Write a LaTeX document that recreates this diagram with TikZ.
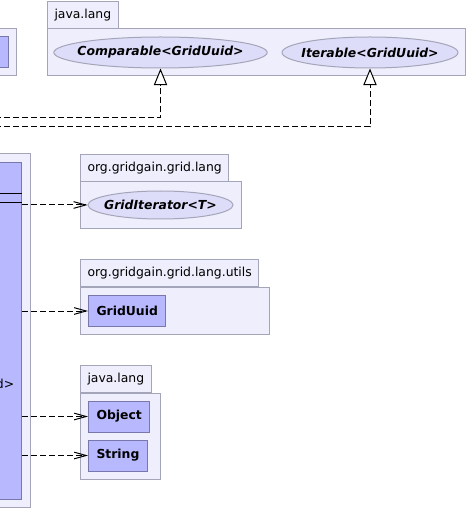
\documentclass[tikz,border=0pt]{standalone}
\usepackage{fontspec}
\setmainfont{DejaVu Sans}
\usetikzlibrary{arrows.meta,shapes.geometric}
\definecolor{pkgfill}{RGB}{238,238,252}
\definecolor{pkgline}{RGB}{165,165,185}
\definecolor{clsfill}{RGB}{184,184,255}
\definecolor{clsline}{RGB}{120,120,170}
\definecolor{ifcfill}{RGB}{221,221,250}
\tikzset{
  pkg/.style={draw=pkgline, fill=pkgfill, line width=0.75pt},
  pkgtab/.style={pkg, anchor=south west, inner xsep=5.25pt, inner ysep=0pt,
    minimum height=20.25pt, font=\fontsize{9.3}{10}\selectfont},
  cls/.style={draw=clsline, fill=clsfill, line width=0.75pt, inner xsep=6pt,
    inner ysep=0pt, minimum height=23.25pt, font=\fontsize{9.3}{10}\selectfont\bfseries},
  ifc/.style={ellipse, draw=pkgline, fill=ifcfill, line width=0.75pt, inner xsep=-6pt,
    inner ysep=0pt, font=\fontsize{9.3}{10}\selectfont\bfseries\itshape},
  dep/.style={dash pattern=on 4.5pt off 2.25pt, line width=0.75pt,
    -{Straight Barb[length=9pt,width=5pt]}},
  real/.style={dash pattern=on 4.5pt off 2.25pt, line width=0.75pt,
    -{Triangle[open,length=12.5pt,width=10pt,fill=white]}}
}

\begin{document}
\begin{tikzpicture}[x=0.75pt,y=-0.75pt]
  \useasboundingbox (0,0) rectangle (467,509);
  \clip (0,0) rectangle (467,509);

  %%%%% PACKAGES %%%%%
  \draw[pkg] (-10,29) rectangle (16,76);
  \draw[cls] (-10,37) rectangle (8,68);

  \draw[pkg] (47,29) rectangle (465,76);
  \node[pkgtab] (jltab) at (47,29) {java.lang};

  \draw[pkg] (-10,154) rectangle (30,507);

  \draw[pkg] (80,182) rectangle (241,229);
  \node[pkgtab] (langtab) at (80,182) {org.gridgain.grid.lang};

  \draw[pkg] (80,287) rectangle (269,334);
  \node[pkgtab] (utiltab) at (80,287) {org.gridgain.grid.lang.utils};

  \draw[pkg] (80,393) rectangle (160,479);
  \node[pkgtab] (jl2tab) at (80,393) {java.lang};

  %%%%% CLASSES %%%%%
  \node[cls, minimum width=166.5pt, minimum height=252.75pt, anchor=north east]
    (main) at (22,162) {};
  \draw[line width=0.75pt] (main.west |- 0,194) -- (main.east |- 0,194);
  \draw[line width=0.75pt] (main.west |- 0,203) -- (main.east |- 0,203);
  \node[anchor=east, inner sep=0pt, font=\fontsize{9.3}{10}\selectfont] (mainop) at (14.5,384) {d>};

  \node[ifc, minimum width=160pt, minimum height=23.25pt] (cmp) at (160.5,52.5) {Comparable<GridUuid>};
  \node[ifc, minimum width=132pt, minimum height=23.25pt] (itr) at (370,52.5) {Iterable<GridUuid>};
  \node[ifc, minimum width=108.75pt, minimum height=21pt] (giter) at (160.5,205) {GridIterator<T>};

  \node[cls, anchor=west] (uuid) at (88,311) {GridUuid};
  \node[cls, anchor=west] (obj) at (88,416.5) {Object};
  \node[cls, anchor=west] (str) at (88,455.5) {String};

  %%%%% EDGES %%%%%
  \coordinate (cmpfree) at (-5,118);
  \coordinate (itrfree) at (-5,127);
  \draw[real] (cmpfree) -| (cmp.south);
  \draw[real] (itrfree) -| (itr.south);

  \draw[dep] (main.east |- giter.west) -- (giter.west);
  \draw[dep] (main.east |- uuid.west) -- (uuid.west);
  \draw[dep] (main.east |- obj.west) -- (obj.west);
  \draw[dep] (main.east |- str.west) -- (str.west);
\end{tikzpicture}
\end{document}
